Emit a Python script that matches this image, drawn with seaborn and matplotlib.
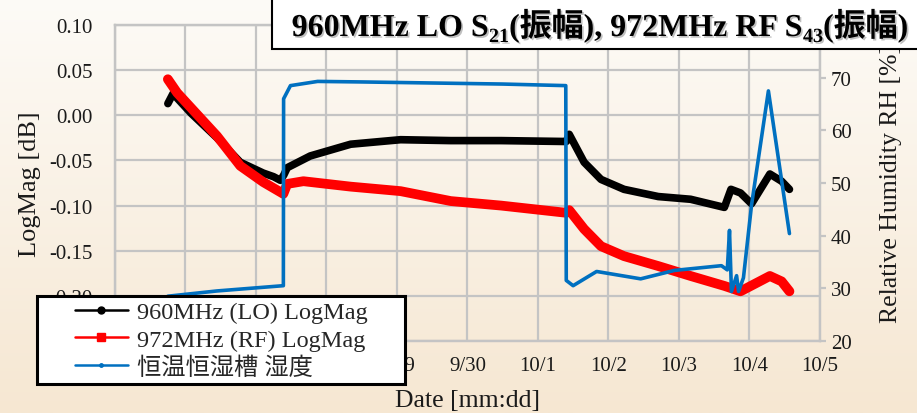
import matplotlib
matplotlib.use("Agg")
import matplotlib.pyplot as plt
import matplotlib.patheffects as pe
from matplotlib.lines import Line2D
from matplotlib.patches import Rectangle
import numpy as np
import pandas as pd
import seaborn as sns

ANIO = "2014"

# 960MHz LO S21 (dB)
lo_tiempo = ["09-25 18:00", "09-25 19:45", "09-26 02:00", "09-26 10:45", "09-26 18:40",
             "09-27 02:30", "09-27 06:00", "09-27 08:20", "09-27 09:30", "09-27 10:40",
             "09-27 18:30", "09-28 08:15", "09-29 01:15", "09-29 18:20", "09-30 11:30",
             "10-01 09:40", "10-01 10:40", "10-01 15:45", "10-01 21:30", "10-02 05:20",
             "10-02 17:00", "10-03 04:00", "10-03 15:30", "10-03 17:45",
             "10-03 21:00", "10-04 00:45", "10-04 07:00", "10-04 11:00", "10-04 13:40"]
lo_logmag = [0.013, 0.024, 0.002, -0.025, -0.052,
             -0.064, -0.068, -0.072, -0.066, -0.058,
             -0.045, -0.032, -0.027, -0.028, -0.028,
             -0.029, -0.021, -0.052, -0.071, -0.082,
             -0.090, -0.093, -0.102, -0.082,
             -0.086, -0.098, -0.065, -0.073, -0.082]

# 972MHz RF S43 (dB)
rf_tiempo = ["09-25 18:00", "09-25 21:10", "09-26 10:45", "09-26 18:40", "09-27 02:30",
             "09-27 09:20", "09-27 10:40", "09-27 16:10", "09-28 08:15", "09-29 01:15",
             "09-29 18:20", "09-30 11:30", "10-01 09:40", "10-01 10:40", "10-01 15:45",
             "10-01 21:30", "10-02 05:20", "10-02 17:00", "10-03 04:00", "10-03 15:30",
             "10-03 21:00", "10-04 07:00", "10-04 11:00", "10-04 13:40"]
rf_logmag = [0.040, 0.025, -0.023, -0.056, -0.074,
             -0.087, -0.076, -0.073, -0.079, -0.084,
             -0.095, -0.100, -0.108, -0.105, -0.126,
             -0.145, -0.156, -0.167, -0.178, -0.189,
             -0.195, -0.178, -0.184, -0.195]

# humedad del camara (RH %)
rh_tiempo = ["09-25 18:00", "09-26 10:45", "09-27 09:20", "09-27 09:25", "09-27 11:45",
             "09-27 21:00", "09-28 12:00", "09-29 12:00", "09-30 12:00", "10-01 09:30",
             "10-01 09:40", "10-01 12:00", "10-01 20:00", "10-02 11:00", "10-02 22:30",
             "10-03 14:30", "10-03 16:30", "10-03 17:15", "10-03 17:55", "10-03 19:40",
             "10-03 20:20", "10-03 22:00", "10-04 00:45", "10-04 06:30", "10-04 13:40"]
rh_humedad = [28.5, 29.5, 30.5, 66.0, 68.5,
              69.3, 69.2, 69.0, 68.8, 68.5,
              31.5, 30.5, 33.2, 31.8, 33.4,
              34.3, 33.5, 41.0, 29.4, 32.4,
              29.4, 32.0, 45.8, 67.5, 40.4]

dias = ["09-25", "09-26", "09-27", "09-28", "09-29", "09-30",
        "10-01", "10-02", "10-03", "10-04", "10-05"]
etiquetas_dias = ["9/25", "9/26", "9/27", "9/28", "9/29", "9/30",
                  "10/1", "10/2", "10/3", "10/4", "10/5"]

ticks_db = [-0.25, -0.20, -0.15, -0.10, -0.05, 0.00, 0.05, 0.10]
etiquetas_db = ["-0.25", "-0.20", "-0.15", "-0.10", "-0.05", "0.00", "0.05", "0.10"]
ticks_rh = [20, 30, 40, 50, 60, 70]

etiquetas_leyenda = ["960MHz (LO) LogMag", "972MHz (RF) LogMag", "恒温恒湿槽 湿度"]

# titulo: (texto, es_subindice)
titulo = [("960MHz LO S", False), ("21", True), ("(振幅), 972MHz RF S", False),
          ("43", True), ("(振幅)", False)]


def a_fecha(lista):
    return pd.to_datetime([f"{ANIO}-{t}" for t in lista])


sns.set_style("white")
plt.rcParams["font.family"] = ["Liberation Serif", "Noto Sans CJK JP"]
plt.rcParams["axes.unicode_minus"] = False

GRIS = "#C4C4C4"
TEXTO = "#1a1a1a"
AZUL = "#0070C0"

fig = plt.figure(figsize=(9.17, 4.14), dpi=100)

# fondo degradado tipo diapositiva
fondo = fig.add_axes([0, 0, 1, 1], zorder=-10)
grad = np.linspace(0, 1, 256).reshape(-1, 1)
c_top = np.array(matplotlib.colors.to_rgb("#FDFBF7"))
c_bot = np.array(matplotlib.colors.to_rgb("#F6E7D2"))
img = c_top + (c_bot - c_top) * grad[:, :, None]
fondo.imshow(img, aspect="auto", extent=(0, 1, 0, 1))
fondo.axis("off")

ax = fig.add_axes([0.1254, 0.174, 0.894 - 0.1254, 0.937 - 0.174])
ax.set_facecolor("none")
ax2 = ax.twinx()

sns.lineplot(x=a_fecha(lo_tiempo), y=lo_logmag, ax=ax, color="black", lw=5.5,
             sort=False, estimator=None, solid_joinstyle="round", solid_capstyle="round")
sns.lineplot(x=a_fecha(rf_tiempo), y=rf_logmag, ax=ax, color="#FF0000", lw=7,
             sort=False, estimator=None, solid_joinstyle="round", solid_capstyle="round")
sns.lineplot(x=a_fecha(rh_tiempo), y=rh_humedad, ax=ax2, color=AZUL, lw=2.6,
             sort=False, estimator=None, solid_joinstyle="round")

ax.set_xlim(a_fecha(dias)[0], a_fecha(dias)[-1])
ax.set_xticks(a_fecha(dias))
ax.set_xticklabels(etiquetas_dias)
# las fechas 9/25-9/28 quedan tapadas por la leyenda
for lbl in ax.get_xticklabels()[:4]:
    lbl.set_visible(False)
ax.set_ylim(-0.25, 0.10)
ax.set_yticks(ticks_db)
ax.set_yticklabels(etiquetas_db)
ax.grid(True, color=GRIS, lw=1.6)
ax.set_axisbelow(True)

ax2.set_ylim(20, 80)
ax2.set_yticks(ticks_rh)
ax2.grid(False)

for a in (ax, ax2):
    for s in a.spines.values():
        s.set_color(GRIS)
        s.set_linewidth(1.6)

ax.tick_params(axis="y", length=0, labelsize=15, colors=TEXTO, pad=16)
ax.tick_params(axis="x", length=0, labelsize=15, colors=TEXTO, pad=11)
ax2.tick_params(axis="y", length=4, width=1.6, color=GRIS, labelsize=15,
                labelcolor=TEXTO, pad=4, direction="out")

ax.set_ylabel("LogMag [dB]", fontsize=19, color=TEXTO, labelpad=6)
ax.set_xlabel("Date [mm:dd]", fontsize=18.5, color=TEXTO, labelpad=10)
ax2.set_ylabel("Relative Humidity RH [%]", fontsize=18.5, color=TEXTO, labelpad=20)

# caja de leyenda
fig.add_artist(Rectangle((37 / 917, 1 - 385 / 414), 368 / 917, 88 / 414,
                         transform=fig.transFigure, facecolor="white",
                         edgecolor="black", lw=2.2, zorder=4))
manijas = [
    Line2D([], [], color="black", lw=1.8, marker="o", ms=5),
    Line2D([], [], color="#FF0000", lw=1.8, marker="s", ms=6),
    Line2D([], [], color=AZUL, lw=1.8, marker="o", ms=2.5),
]
fig.legend(manijas, etiquetas_leyenda, loc="center",
           bbox_to_anchor=((37 + 184) / 917, 1 - 341 / 414), bbox_transform=fig.transFigure,
           frameon=False, fontsize=17.5, handlelength=2.2, handletextpad=0.35,
           labelspacing=0.22, borderpad=0.0)

# titulo en recuadro
fig.add_artist(Rectangle((272 / 917, 1 - 50 / 414), 0.75, 0.2,
                         transform=fig.transFigure, facecolor="white",
                         edgecolor="black", lw=1.5, zorder=4))
sombra = [pe.withSimplePatchShadow(offset=(1.2, -1.2), shadow_rgbFace="gray", alpha=0.5)]
base_y = 1 - 37 / 414
piezas = []
for texto, sub in titulo:
    t = fig.text(0, base_y - (6 / 414 if sub else 0), texto,
                 fontsize=14.5 if sub else 23, fontweight="bold", color="black",
                 ha="left", va="baseline", zorder=5, path_effects=sombra)
    piezas.append(t)
renderer = fig.canvas.get_renderer()
anchos = [t.get_window_extent(renderer).width / fig.bbox.width for t in piezas]
x = 600 / 917 - sum(anchos) / 2
for t, w in zip(piezas, anchos):
    t.set_x(x)
    x += w

fig.savefig("out.png", dpi=100)
